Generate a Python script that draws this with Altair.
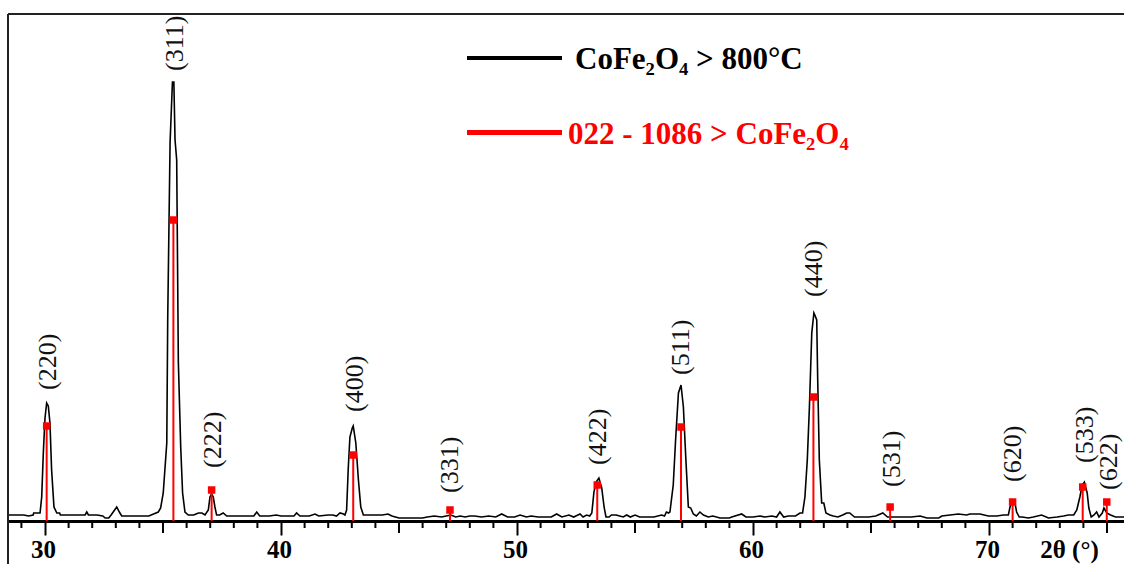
import altair as alt
import pandas as pd

# ---- measured XRD pattern (2theta in degrees, intensity in counts / a.u.) ----
two_theta = [
    28.45, 28.80, 29.10, 29.30, 29.50, 29.52, 29.75, 29.79, 29.86, 29.93,
    30.00, 30.07, 30.14, 30.21, 30.28, 30.38, 30.50, 30.62, 30.65, 31.00,
    31.40, 31.70, 31.77, 31.84, 32.20, 32.45, 32.55, 32.70, 32.80, 32.95,
    33.04, 33.15, 33.25, 33.60, 34.00, 34.40, 34.60, 34.80, 34.90, 35.01,
    35.16, 35.20, 35.30, 35.40, 35.46, 35.51, 35.58, 35.65, 35.75, 35.83,
    35.93, 36.07, 36.30, 36.50, 36.65, 36.78, 36.92, 36.99, 37.06, 37.13,
    37.20, 37.27, 37.40, 37.55, 37.70, 38.00, 38.30, 38.60, 38.85, 38.97,
    39.10, 39.50, 39.80, 40.00, 40.30, 40.55, 40.66, 40.80, 41.20, 41.44,
    41.60, 42.00, 42.20, 42.35, 42.50, 42.65, 42.71, 42.78, 42.85, 42.92,
    43.02, 43.06, 43.17, 43.28, 43.38, 43.49, 43.70, 44.00, 44.30, 44.53,
    44.70, 45.00, 45.50, 46.00, 46.20, 46.50, 46.80, 47.00, 47.20, 47.40,
    47.60, 47.80, 48.00, 48.20, 48.50, 48.80, 49.10, 49.35, 49.60, 49.90,
    50.13, 50.40, 50.60, 50.90, 51.20, 51.45, 51.68, 51.90, 52.20, 52.40,
    52.67, 52.80, 52.95, 53.08, 53.17, 53.26, 53.35, 53.47, 53.59, 53.69,
    53.77, 53.90, 54.00, 54.20, 54.35, 54.50, 54.65, 54.80, 55.00, 55.20,
    55.50, 55.80, 56.13, 56.25, 56.33, 56.42, 56.48, 56.62, 56.72, 56.84,
    56.95, 57.05, 57.15, 57.26, 57.36, 57.47, 57.60, 57.75, 57.90, 58.10,
    58.30, 58.60, 59.00, 59.10, 59.52, 59.70, 60.00, 60.30, 60.50, 60.80,
    61.00, 61.14, 61.30, 61.50, 61.80, 61.99, 62.10, 62.20, 62.30, 62.39,
    62.49, 62.58, 62.62, 62.70, 62.74, 62.81, 62.91, 63.00, 63.09, 63.26,
    63.40, 63.60, 63.80, 63.97, 64.10, 64.30, 64.60, 64.90, 65.20, 65.50,
    65.70, 66.00, 66.30, 66.70, 67.08, 67.37, 67.87, 68.00, 68.35, 68.70,
    69.05, 69.19, 69.62, 69.97, 70.33, 70.61, 70.82, 70.89, 71.00, 71.10,
    71.17, 71.28, 71.40, 71.67, 71.88, 72.23, 72.52, 72.88, 73.16, 73.36,
    73.59, 73.72, 73.85, 73.95, 74.04, 74.16, 74.23, 74.33, 74.45, 74.56,
    74.66, 74.80, 74.87, 74.99, 75.15, 75.36, 75.74,
]
counts = [
    6, 6, 6, 5, 6, 8, 8, 8, 24, 69,
    103, 118, 115, 98, 51, 14, 8, 8, 6, 6,
    6, 6, 9, 6, 6, 5, 3, 3, 6, 11,
    14, 9, 5, 5, 5, 5, 7, 9, 13, 28,
    78, 203, 379, 439, 439, 381, 361, 159, 74, 28,
    9, 6, 6, 8, 8, 6, 11, 24, 27, 24,
    14, 6, 6, 8, 5, 5, 5, 5, 5, 9,
    5, 5, 6, 5, 5, 5, 8, 5, 5, 7,
    5, 6, 6, 5, 8, 7, 6, 11, 53, 84,
    93, 95, 78, 41, 14, 6, 6, 6, 6, 7,
    5, 3, 3, 3, 4, 5, 4, 5, 6, 4,
    5, 4, 5, 5, 4, 5, 4, 7, 4, 4,
    6, 4, 5, 4, 4, 4, 7, 4, 6, 4,
    7, 4, 6, 5, 8, 29, 39, 43, 33, 14,
    4, 4, 6, 6, 5, 4, 6, 4, 6, 4,
    4, 4, 6, 5, 9, 8, 9, 36, 81, 128,
    136, 114, 64, 14, 13, 7, 5, 9, 6, 4,
    5, 3, 3, 4, 7, 4, 4, 5, 4, 5,
    4, 9, 4, 5, 5, 8, 8, 24, 61, 114,
    188, 208, 206, 201, 143, 61, 18, 18, 8, 6,
    5, 4, 6, 8, 8, 4, 4, 4, 5, 8,
    4, 4, 4, 4, 5, 3, 3, 5, 6, 7,
    6, 7, 7, 5, 5, 6, 6, 14, 21, 18,
    9, 4, 4, 3, 4, 6, 3, 4, 5, 6,
    6, 11, 24, 36, 39, 28, 13, 4, 6, 9,
    4, 8, 13, 8, 6, 4, 4,
]

# ---- reference card 022-1086 (CoFe2O4) ----
ref_hkl = ["(220)", "(311)", "(222)", "(400)", "(331)", "(422)",
           "(511)", "(440)", "(531)", "(620)", "(533)", "(622)"]
ref_pos = [30.07, 35.44, 37.06, 43.06, 47.16, 53.40,
           56.95, 62.56, 65.81, 71.00, 73.97, 74.99]
ref_int = [95, 301, 31, 66, 11, 36, 94, 124, 14, 19, 34, 19]
# where each (hkl) annotation starts (2theta, intensity)
label_pos = [30.12, 35.51, 37.10, 43.13, 47.16, 53.45,
             56.95, 62.58, 65.88, 71.03, 74.07, 75.10]
label_at = [131, 450, 53, 109, 28, 56, 146, 224, 34, 39, 58, 31]

major_ticks = [30, 40, 50, 60, 70]
mid_ticks = [35, 45, 55, 65, 75]
minor_ticks = [v for v in range(29, 76) if v % 5 != 0]

legend_labels = ["CoFe\u2082O\u2084 > 800\u00b0C", "022 - 1086 > CoFe\u2082O\u2084"]
legend_colors = ["#000000", "#ff0000"]
x_title = "2\u03b8 (\u00b0)"

# ---- layout ----
W, H = 1116, 507
SERIF = "Liberation Serif"
RED = "#ff0000"

xs = alt.Scale(domain=[28.432, 75.72], nice=False, zero=False)
ys = alt.Scale(domain=[0, 507], nice=False, zero=False)

curve_df = pd.DataFrame({"t": two_theta, "I": counts})
ref_df = pd.DataFrame({"t": ref_pos, "I": ref_int})
lab_df = pd.DataFrame({"t": label_pos, "I": label_at, "hkl": ref_hkl})
minor_df = pd.DataFrame({"t": minor_ticks})
mid_df = pd.DataFrame({"t": mid_ticks})
one = pd.DataFrame({"k": [0]})

x_axis = alt.Axis(
    values=major_ticks, format="d", grid=False,
    tickSize=14, tickWidth=2, tickColor="black",
    domainWidth=3, domainColor="black",
    labelFont=SERIF, labelFontWeight="bold", labelFontSize=25,
    labelColor="black", labelBaseline="alphabetic", labelPadding=22,
    labelOffset=-2, labelFlush=False,
    title=x_title, titleFont=SERIF, titleFontWeight="bold", titleFontSize=25,
    titleColor="black", titleAlign="center", titleBaseline="alphabetic",
    titleAnchor="start", titleX=1061, titleY=36, titleAngle=0,
)


def X():
    return alt.X("t:Q", scale=xs, axis=x_axis, title=x_title)


def Y():
    return alt.Y("I:Q", scale=ys, axis=None)


curve = alt.Chart(curve_df).mark_line(color="black", strokeWidth=1.6, clip=True).encode(
    x=X(), y=Y()
)

ref_lines = alt.Chart(ref_df).mark_rule(color=RED, strokeWidth=2).encode(
    x=X(), y=Y(), y2=alt.value(H)
)
ref_marks = alt.Chart(ref_df).mark_square(color=RED, size=56, opacity=1).encode(
    x=X(), y=Y()
)
labels = alt.Chart(lab_df).mark_text(
    angle=270, align="left", baseline="middle",
    font=SERIF, fontSize=26, color="#111111",
).encode(x=X(), y=Y(), text="hkl:N")

minor = alt.Chart(minor_df).mark_rule(color="black", strokeWidth=2).encode(
    x=X(), y=alt.value(H), y2=alt.value(H + 7)
)
mid = alt.Chart(mid_df).mark_rule(color="black", strokeWidth=2).encode(
    x=X(), y=alt.value(H), y2=alt.value(H + 12)
)

top_border = alt.Chart(one).mark_rule(color="#222222", strokeWidth=2).encode(
    x=alt.value(0), x2=alt.value(W), y=alt.value(0)
)
left_border = alt.Chart(one).mark_rule(color="#222222", strokeWidth=2).encode(
    x=alt.value(0), y=alt.value(0), y2=alt.value(H + 43)
)

legend_layers = []
for i, (txt, col) in enumerate(zip(legend_labels, legend_colors)):
    ly = 44 + i * 74.5
    legend_layers.append(
        alt.Chart(one).mark_rule(color=col, strokeWidth=4 + i).encode(
            x=alt.value(459), x2=alt.value(554), y=alt.value(ly)
        )
    )
    legend_layers.append(
        alt.Chart(one).mark_text(
            align="left", baseline="alphabetic", font=SERIF,
            fontSize=31, fontWeight="bold", color=col, text=txt,
        ).encode(x=alt.value(567 - 7 * i), y=alt.value(ly + 11))
    )

chart = alt.layer(
    curve, minor, mid, ref_lines, ref_marks, labels,
    top_border, left_border, *legend_layers,
).properties(
    width=W, height=H,
    padding={"left": 8, "top": 14, "right": 0, "bottom": 43},
    autosize=alt.AutoSizeParams(type="none"),
    background="white",
).configure_view(strokeWidth=0)

chart.save("out.html", embed_options={"renderer": "svg", "actions": False})
